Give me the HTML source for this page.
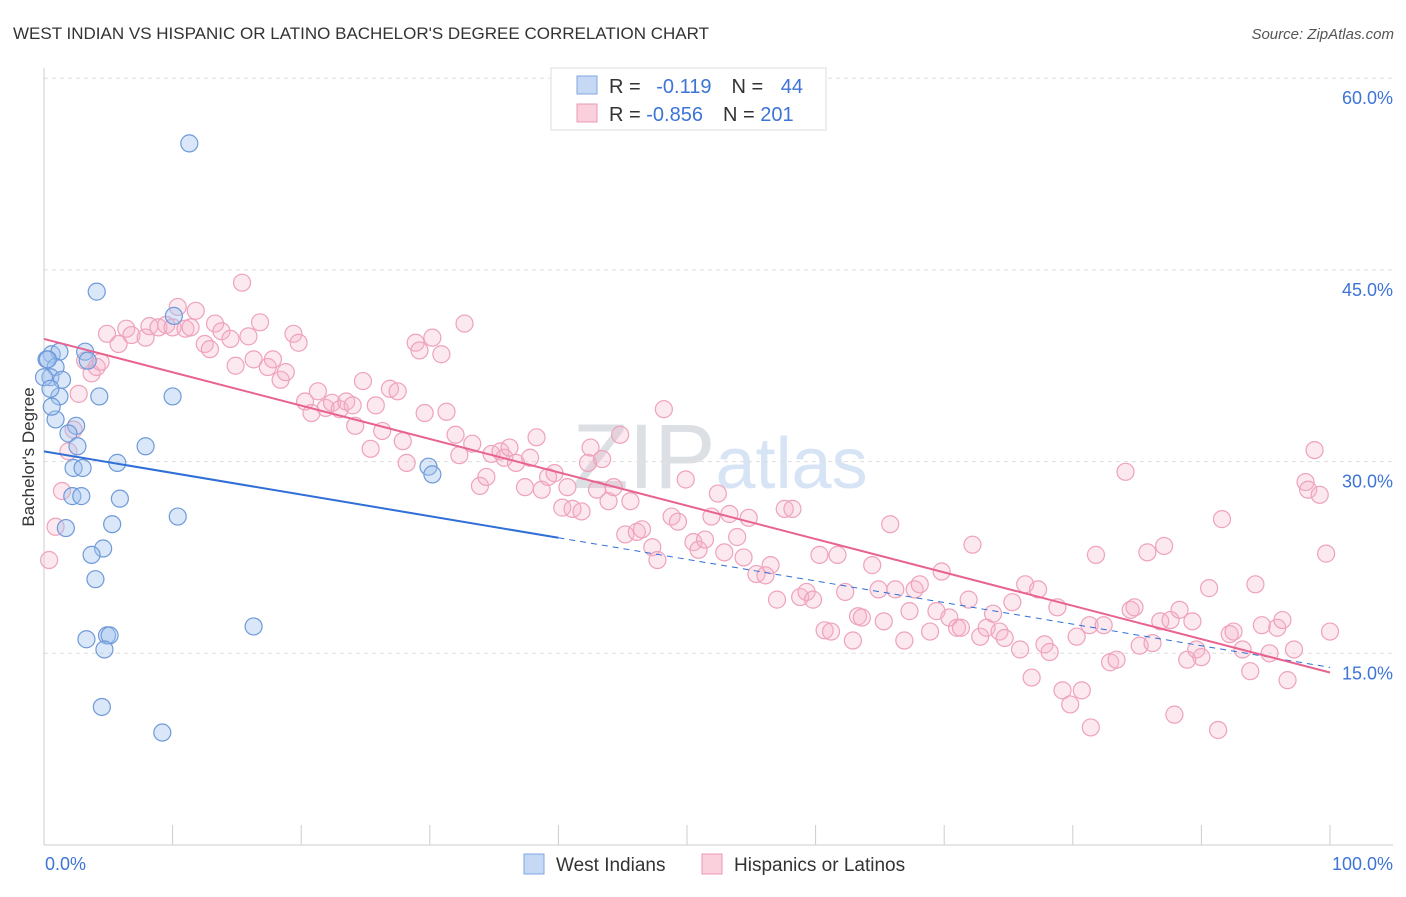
<!DOCTYPE html>
<html><head><meta charset="utf-8"><style>
body{margin:0;background:#fff;font-family:"Liberation Sans",sans-serif;}
svg text{font-family:"Liberation Sans",sans-serif;}
</style></head><body>
<svg id="chart" width="1406" height="892" xmlns="http://www.w3.org/2000/svg">
<text x="13" y="39" font-size="17" fill="#333">WEST INDIAN VS HISPANIC OR LATINO BACHELOR'S DEGREE CORRELATION CHART</text>
<text x="1394" y="39" font-size="15" fill="#555" font-style="italic" text-anchor="end">Source: ZipAtlas.com</text>
<text x="720" y="488" font-size="92" fill="#e4e8ef" text-anchor="middle" font-family="Liberation Serif"><tspan fill="#dcdfe4">ZIP</tspan><tspan fill="#d6e4f5" font-family="Liberation Sans" font-size="72">atlas</tspan></text>
<g id="grid"></g><g id="axes"></g><g id="pts"></g><g id="trend"></g>
<text transform="translate(34,457) rotate(-90)" font-size="17" fill="#333" text-anchor="middle">Bachelor's Degree</text>
<text x="45" y="870" font-size="18" fill="#3d74d6">0.0%</text>
<text x="1393" y="870" font-size="18" fill="#3d74d6" text-anchor="end">100.0%</text>
<g>
<rect x="551" y="68" width="275" height="62" fill="#fff" stroke="#ddd"/>
<rect x="577" y="76" width="20" height="18" fill="#c5d9f5" stroke="#7fa6e0"/>
<rect x="577" y="104" width="20" height="18" fill="#f9d0dc" stroke="#eb9ab3"/>
<text x="609" y="93" font-size="20" fill="#333">R = <tspan fill="#3d74d6" dx="10">-0.119</tspan><tspan dx="20" fill="#333">N = </tspan><tspan fill="#3d74d6" dx="12">44</tspan></text>
<text x="609" y="121" font-size="20" fill="#333">R = <tspan fill="#3d74d6">-0.856</tspan><tspan dx="20" fill="#333">N = </tspan><tspan fill="#3d74d6">201</tspan></text>
</g>
<g>
<rect x="524" y="854" width="20" height="20" fill="#c5d9f5" stroke="#7fa6e0"/>
<text x="556" y="871" font-size="19" fill="#333">West Indians</text>
<rect x="702" y="854" width="20" height="20" fill="#f9d0dc" stroke="#eb9ab3"/>
<text x="734" y="871" font-size="19" fill="#333">Hispanics or Latinos</text>
</g>
</svg>
<script>
const yTicks=[15,30,45,60];
const yTickLabels=["15.0%","30.0%","45.0%","60.0%"];
const xTicks=[0,10,20,30,40,50,60,70,80,90,100];
const blueX=[11.3,4.1,10.1,0.6,1.2,3.2,0.2,0.9,3.4,0.5,1.4,1.2,4.3,10.0,0.9,0.6,2.5,1.9,2.6,7.9,2.3,3.0,5.7,29.9,30.2,2.2,2.9,5.9,10.4,5.3,1.7,4.6,3.7,4.0,16.3,3.3,4.9,5.1,4.7,4.5,9.2,0,0.5,0.3];
const blueY=[54.9,43.3,41.4,38.4,38.6,38.6,38.0,37.4,37.9,36.6,36.4,35.1,35.1,35.1,33.3,34.3,32.8,32.2,31.2,31.2,29.5,29.5,29.9,29.6,29.0,27.3,27.3,27.1,25.7,25.1,24.8,23.2,22.7,20.8,17.1,16.1,16.4,16.4,15.3,10.8,8.8,36.6,35.7,38.0];
const pinkX=[0.4,0.9,1.4,1.9,2.3,2.7,3.2,3.7,4.1,4.4,4.9,5.8,6.4,6.8,7.9,8.2,8.9,9.5,10.0,10.4,11.0,11.4,11.8,12.5,12.9,13.3,13.8,14.5,14.9,15.4,15.9,16.3,16.8,17.4,17.8,18.4,18.8,19.4,19.8,20.3,20.8,21.3,21.9,22.4,23.0,23.5,24.0,24.2,24.8,25.4,25.8,26.3,26.9,27.5,27.9,28.2,28.9,29.2,29.6,30.2,30.9,31.3,32.0,32.3,32.7,33.3,33.9,34.4,34.8,35.5,35.8,36.2,36.7,37.4,37.8,38.3,38.7,39.2,39.7,40.3,40.7,41.1,41.8,42.3,42.5,43.0,43.4,43.9,44.3,44.8,45.2,45.6,46.1,46.5,47.3,47.7,48.2,48.8,49.3,49.9,50.5,50.9,51.4,51.9,52.4,52.9,53.3,53.9,54.4,54.8,55.4,56.1,56.5,57.0,57.6,58.2,58.8,59.3,59.8,60.3,60.7,61.2,61.7,62.3,62.9,63.3,63.6,64.4,64.9,65.3,65.8,66.2,66.9,67.3,67.7,68.1,68.9,69.4,69.8,70.4,71.0,71.3,71.9,72.2,72.8,73.3,73.8,74.3,74.7,75.3,75.9,76.3,76.8,77.3,77.8,78.2,78.8,79.2,79.8,80.3,80.7,81.3,81.8,82.4,82.9,83.4,84.1,84.5,84.8,85.2,85.8,86.2,86.8,87.1,87.6,87.9,88.3,88.9,89.3,89.6,90.0,90.6,91.3,91.6,92.2,92.5,93.2,93.8,94.2,94.7,95.3,95.9,96.3,96.7,97.2,98.1,98.3,98.8,99.2,99.7,100,81.4];
const pinkY=[22.3,24.9,27.7,30.8,32.5,35.3,37.9,36.9,37.4,37.8,40.0,39.2,40.4,39.9,39.7,40.6,40.5,40.7,40.5,42.1,40.4,40.5,41.8,39.2,38.8,40.8,40.2,39.6,37.5,44.0,39.8,38.0,40.9,37.4,38.0,36.4,37.0,40.0,39.3,34.7,33.8,35.5,34.2,34.6,34.1,34.7,34.4,32.8,36.3,31.0,34.4,32.4,35.7,35.5,31.6,29.9,39.3,38.7,33.8,39.7,38.4,33.9,32.1,30.5,40.8,31.4,28.1,28.8,30.6,30.8,30.3,31.1,29.9,28.0,30.3,31.9,27.8,28.8,29.1,26.4,28.0,26.3,26.1,29.9,31.1,27.8,30.2,26.9,28.0,32.1,24.3,26.9,24.5,24.7,23.3,22.3,34.1,25.7,25.3,28.6,23.7,23.1,23.9,25.7,27.5,22.9,25.9,24.1,22.5,25.6,21.2,21.1,21.9,19.2,26.3,26.3,19.4,19.8,19.2,22.7,16.8,16.7,22.7,19.8,16.0,17.9,17.8,21.9,20.0,17.5,25.1,20.0,16.0,18.3,20.0,20.4,16.7,18.3,21.4,17.8,17.0,17.0,19.2,23.5,16.3,17.0,18.1,16.7,16.2,19.0,15.3,20.4,13.1,20.0,15.7,15.1,18.6,12.1,11.0,16.3,12.1,17.2,22.7,17.2,14.3,14.5,29.2,18.4,18.6,15.6,22.9,15.8,17.5,23.4,17.6,10.2,18.4,14.5,17.5,15.3,14.7,20.1,9.0,25.5,16.5,16.7,15.3,13.6,20.4,17.2,15.0,17.0,17.6,12.9,15.3,28.4,27.8,30.9,27.4,22.8,16.7,9.2];
const blueTrend=[30.8,13.9];
const blueSolidEnd=40;
const pinkTrend=[39.6,13.5];
const NS="http://www.w3.org/2000/svg";
const X=v=>44+v*12.86, Y=v=>845-v*12.78;
function mk(tag,attrs,parent){const e=document.createElementNS(NS,tag);for(const k in attrs)e.setAttribute(k,attrs[k]);document.getElementById(parent).appendChild(e);return e;}
yTicks.forEach((t,i)=>{
 const g=mk('line',{x1:44,x2:1393,y1:Y(t),y2:Y(t),stroke:'#ddd','stroke-dasharray':'4,4'},'grid');
 
 
 const l=mk('text',{x:1393,y:Y(t)+26,'font-size':18,fill:'#3d74d6','text-anchor':'end'},'grid');
 l.textContent=yTickLabels[i];
 
 
});
const ax=mk('line',{x1:44,x2:44,y1:68,y2:845,stroke:'#ccc'},'axes');


const bx=mk('line',{x1:44,x2:1393,y1:845,y2:845,stroke:'#ccc'},'axes');


xTicks.forEach(t=>{
 const k=mk('line',{x1:X(t),x2:X(t),y1:825,y2:845,stroke:'#ccc'},'axes');
 
 
});
pinkX.forEach((x,i)=>{
 const c=mk('circle',{cx:X(x),cy:Y(pinkY[i]),r:8.5,fill:'rgba(246,180,202,0.3)',stroke:'#eea2bb','stroke-width':1.2},'pts');
 
 
});
blueX.forEach((x,i)=>{
 const c=mk('circle',{cx:X(x),cy:Y(blueY[i]),r:8.5,fill:'rgba(160,195,240,0.4)',stroke:'#6f9ad8','stroke-width':1.2},'pts');
 
 
});
const bt=x=>blueTrend[0]+(blueTrend[1]-blueTrend[0])*x/100;
const pt=x=>pinkTrend[0]+(pinkTrend[1]-pinkTrend[0])*x/100;
const t1=mk('line',{x1:X(0),y1:Y(bt(0)),x2:X(blueSolidEnd),y2:Y(bt(blueSolidEnd)),stroke:'#2f6fd6','stroke-width':2},'trend');


const t2=mk('line',{x1:X(blueSolidEnd),y1:Y(bt(blueSolidEnd)),x2:X(100),y2:Y(bt(100)),stroke:'#2f6fd6','stroke-width':1,'stroke-dasharray':'6,5'},'trend');


const t3=mk('line',{x1:X(0),y1:Y(pt(0)),x2:X(100),y2:Y(pt(100)),stroke:'#e8638f','stroke-width':2},'trend');


</script>
</body></html>
